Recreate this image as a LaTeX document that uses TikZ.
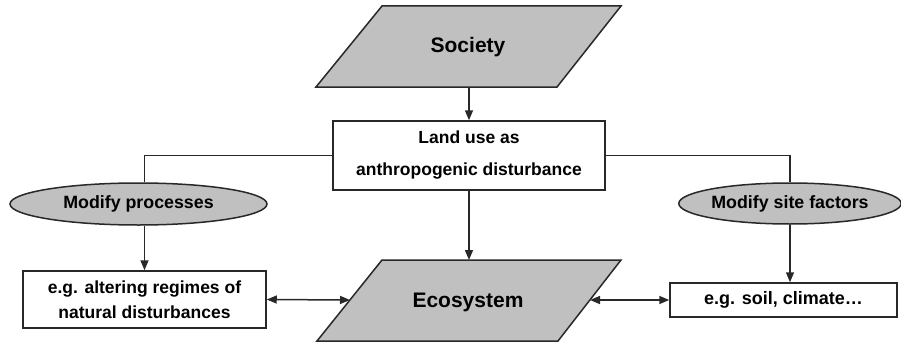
\documentclass[tikz,border=0pt]{standalone}
\usepackage{fontspec}
\setmainfont{Liberation Sans}
\usetikzlibrary{shapes.geometric,arrows.meta,calc}
\definecolor{shapegray}{RGB}{192,192,192}
\definecolor{linec}{RGB}{40,40,40}
\tikzset{
  ln/.style={draw=linec, line width=1.5pt},
  arr/.style={ln, -{Triangle[length=10pt,width=8pt]}},
  darr/.style={ln, {Triangle[length=10pt,width=8pt]}-{Triangle[length=10pt,width=8pt]}},
  para/.style={draw=linec, line width=1.5pt, fill=shapegray, line join=miter},
  boxst/.style={draw=linec, line width=1.5pt, fill=white, rectangle, inner sep=0pt, font=\bfseries\fontsize{17.5}{20}\selectfont, align=center},
  ovalst/.style={draw=linec, line width=1.5pt, fill=shapegray, ellipse, inner sep=0pt, font=\bfseries\fontsize{17.8}{20}\selectfont},
  bigtext/.style={font=\bfseries\fontsize{21}{24}\selectfont, inner sep=0pt}
}
\begin{document}
\begin{tikzpicture}[x=1pt,y=-1pt]
\useasboundingbox (0,0) rectangle (901,345);
% Society parallelogram
\draw[para] (316,87) -- (557,87) -- (621,6) -- (382,6) -- cycle;
\node[bigtext] (soc) at (468,47) {Society};
\coordinate (socb) at (469,87);
% Ecosystem parallelogram
\draw[para] (317,341) -- (558,341) -- (621,260) -- (382,260) -- cycle;
\node[bigtext] (eco) at (468,302) {Ecosystem};
\coordinate (ecot) at (469,260);
\coordinate (ecol) at (350,300);
\coordinate (ecor) at (590,300);
% Land use box
\node[boxst, minimum width=272pt, minimum height=69pt, font=\bfseries\fontsize{17.5}{32}\selectfont] (land) at (469,155.5) {Land use  as\\anthropogenic disturbance};
% Ellipses
\node[ovalst, minimum width=257pt, minimum height=42pt] (lp) at (138.5,204) {Modify  processes};
\node[ovalst, minimum width=214pt, minimum height=41pt] (rp) at (790,203.5) {Modify  site factors};
% Lower boxes
\node[boxst, minimum width=243pt, minimum height=57pt, font=\bfseries\fontsize{17.5}{25}\selectfont] (alt) at (144.5,299.5) {e.g. altering regimes of\\natural disturbances};
\node[boxst, minimum width=227pt, minimum height=34pt, font=\bfseries\fontsize{18}{20}\selectfont] (soil) at (783.5,300) {e.g. soil, climate\dots};
% Connectors
\draw[arr] (socb) -- (land.north);
\draw[arr] (land.south) -- (ecot);
\draw[ln] (land.west) -| (lp.north -| alt.north);
\draw[ln] (land.east) -| (rp.north);
\draw[arr] (lp.south -| alt.north) -- (alt.north);
\draw[arr] (rp.south) -- (rp.south |- soil.north);
\draw[darr] (alt.east) -- (ecol);
\draw[darr] (ecor) -- (soil.west);
\end{tikzpicture}
\end{document}
